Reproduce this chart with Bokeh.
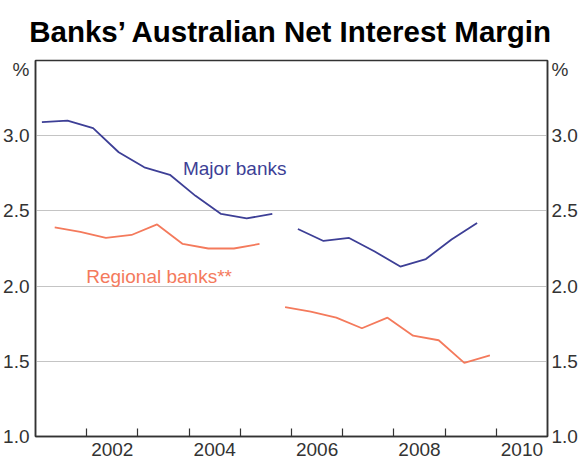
import math
from bokeh.plotting import figure
from bokeh.models import FixedTicker, LinearAxis, Range1d
from bokeh.core.properties import value
from bokeh.embed import file_html
from bokeh.resources import INLINE

nan = math.nan

# ---- data ----
major_x = [2001.125, 2001.625, 2002.125, 2002.625, 2003.125, 2003.625, 2004.125, 2004.625,
           2005.125, 2005.625, nan, 2006.125, 2006.625, 2007.125, 2007.625, 2008.125,
           2008.625, 2009.125, 2009.625]
major_y = [3.09, 3.10, 3.05, 2.89, 2.79, 2.74, 2.60, 2.48, 2.45, 2.48, nan,
           2.38, 2.30, 2.32, 2.23, 2.13, 2.18, 2.31, 2.42]

regional_x = [2001.375, 2001.875, 2002.375, 2002.875, 2003.375, 2003.875, 2004.375, 2004.875,
              2005.375, nan, 2005.875, 2006.375, 2006.875, 2007.375, 2007.875, 2008.375,
              2008.875, 2009.375, 2009.875]
regional_y = [2.39, 2.36, 2.32, 2.34, 2.41, 2.28, 2.25, 2.25, 2.28, nan,
              1.86, 1.83, 1.79, 1.72, 1.79, 1.67, 1.64, 1.49, 1.54]

year_ticks = [2002, 2003, 2004, 2005, 2006, 2007, 2008, 2009, 2010]
year_labels = ["2002", "2004", "2006", "2008", "2010"]
year_label_pos = [2002.5, 2004.5, 2006.5, 2008.5, 2010.5]
y_ticks = [1.0, 1.5, 2.0, 2.5, 3.0]
y_labels = ["1.0", "1.5", "2.0", "2.5", "3.0"]
unit_pos = 3.44
unit_label = "%"

title = "Banks\u2019 Australian Net Interest Margin"
major_color = "#3d3f96"
regional_color = "#f47a5c"
FONT = "Liberation Sans"
AX = "#333333"

p = figure(width=580, height=458, output_backend="svg", toolbar_location=None,
           x_range=Range1d(2001, 2011), y_range=Range1d(1.0, 3.5),
           y_axis_location=None, x_axis_location=None,
           min_border_top=0, min_border_bottom=0, min_border_left=0, min_border_right=0)

p.title.text = title
p.title.text_font = FONT
p.title.text_font_size = "29.5px"
p.title.text_font_style = "bold"
p.title.align = "center"
p.title.text_color = "#000000"
p.title.standoff = 25
p.title.offset = 0

p.outline_line_color = AX
p.outline_line_width = 1.5
p.background_fill_color = "white"
p.border_fill_color = "white"

# y axes
yt = y_ticks + [unit_pos]
overrides = {t: l for t, l in zip(y_ticks, y_labels)}
overrides[unit_pos] = unit_label
for side in ("left", "right"):
    ax = LinearAxis(ticker=FixedTicker(ticks=yt))
    ax.major_label_overrides = overrides
    ax.major_tick_line_color = None
    ax.minor_tick_line_color = None
    ax.major_tick_in = 0
    ax.major_tick_out = 0
    ax.minor_tick_in = 0
    ax.minor_tick_out = 0
    ax.axis_line_color = AX
    ax.axis_line_width = 1.5
    ax.major_label_text_font = FONT
    ax.major_label_text_font_size = "19px"
    ax.major_label_text_color = AX
    ax.major_label_standoff = 6 if side == "left" else 4
    p.add_layout(ax, side)

# x axis
xa = LinearAxis(ticker=FixedTicker(ticks=year_label_pos, minor_ticks=year_ticks))
xa.major_label_overrides = {t: l for t, l in zip(year_label_pos, year_labels)}
xa.major_tick_line_color = None
xa.major_tick_in = 0
xa.major_tick_out = 0
xa.minor_tick_line_color = AX
xa.minor_tick_line_width = 1.2
xa.minor_tick_in = 8
xa.minor_tick_out = 0
xa.axis_line_color = AX
xa.axis_line_width = 1.5
xa.major_label_text_font = FONT
xa.major_label_text_font_size = "19px"
xa.major_label_text_color = AX
xa.major_label_standoff = 6
p.add_layout(xa, "below")

p.xgrid.visible = False
p.ygrid.ticker = FixedTicker(ticks=[1.5, 2.0, 2.5, 3.0])
p.ygrid.grid_line_color = "#c4c4c4"
p.ygrid.grid_line_width = 1.2

p.line(major_x, major_y, line_color=major_color, line_width=1.8)
p.line(regional_x, regional_y, line_color=regional_color, line_width=1.8)

p.text(x=[2003.88], y=[2.784], text=["Major banks"], text_color=major_color,
       text_font=value(FONT), text_font_size="19px", text_align="left",
       text_baseline="alphabetic")
p.text(x=[2001.99], y=[2.066], text=["Regional banks**"], text_color=regional_color,
       text_font=value(FONT), text_font_size="19px", text_align="left",
       text_baseline="alphabetic")

open("out.html", "w").write(file_html(p, INLINE))
